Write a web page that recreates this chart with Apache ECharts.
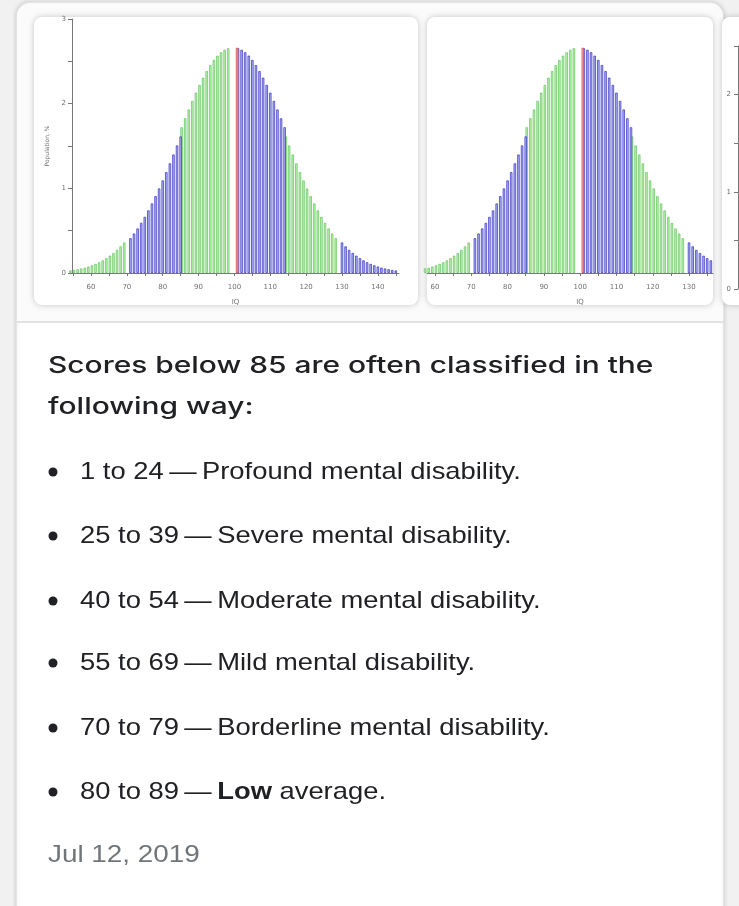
<!DOCTYPE html>
<html><head><meta charset="utf-8">
<script src="https://cdn.jsdelivr.net/npm/echarts@6/dist/echarts.min.js"></script>
<style>html,body{margin:0;padding:0;background:#fff}#c{width:739px;height:906px}</style>
</head><body><div id="c"></div>
<script>
// ---- data ----
const iqScores = [55,56,57,58,59,60,61,62,63,64,65,66,67,68,69,70,71,72,73,74,75,76,77,78,79,80,81,82,83,84,85,86,87,88,89,90,91,92,93,94,95,96,97,98,99,100,101,102,103,104,105,106,107,108,109,110,111,112,113,114,115,116,117,118,119,120,121,122,123,124,125,126,127,128,129,130,131,132,133,134,135,136,137,138,139,140,141,142,143,144,145];
const populationPct = [0.03,0.036,0.044,0.053,0.063,0.076,0.091,0.107,0.127,0.149,0.175,0.204,0.236,0.273,0.314,0.36,0.411,0.466,0.526,0.592,0.663,0.739,0.821,0.907,0.998,1.093,1.192,1.295,1.399,1.506,1.613,1.721,1.827,1.931,2.033,2.13,2.221,2.307,2.385,2.455,2.516,2.567,2.607,2.636,2.654,2.66,2.654,2.636,2.607,2.567,2.516,2.455,2.385,2.307,2.221,2.13,2.033,1.931,1.827,1.721,1.613,1.506,1.399,1.295,1.192,1.093,0.998,0.907,0.821,0.739,0.663,0.592,0.526,0.466,0.411,0.36,0.314,0.273,0.236,0.204,0.175,0.149,0.127,0.107,0.091,0.076,0.063,0.053,0.044,0.036,0.03];
const blueRanges = [[71,85],[101,114],[130,145]];
const redScores = [100];
const secondViewRange = [58, 136];
const xTickLabels = [60,70,80,90,100,110,120,130,140];
const xTickMarks = [55,60,65,70,75,80,85,90,95,100,105,110,115,120,125,130,135,140,145];
const yTickLabels = [0,1,2,3];
const xAxisName = 'IQ';
const yAxisName = 'Population, %';
const headingLines = ['Scores below 85 are often classified in the', 'following way:'];
const bulletRanges = ['1 to 24', '25 to 39', '40 to 54', '55 to 69', '70 to 79', '80 to 89'];
const bulletTexts = ['Profound mental disability.', 'Severe mental disability.', 'Moderate mental disability.', 'Mild mental disability.', 'Borderline mental disability.', '{b|Low} average.'];
const dateText = 'Jul 12, 2019';

// ---- build ----
function zoneOf(x) {
  if (redScores.indexOf(x) >= 0) return 'red';
  for (const r of blueRanges) if (x >= r[0] && x <= r[1]) return 'blue';
  return 'green';
}
function zoneSplit(lo, hi) {
  const out = {green: [], blue: [], red: []};
  iqScores.forEach((x, i) => { if (x >= lo && x <= hi) out[zoneOf(x)].push([x, populationPct[i]]); });
  return out;
}
const views = [zoneSplit(iqScores[0], iqScores[iqScores.length - 1]), zoneSplit(secondViewRange[0], secondViewRange[1])];
const zoneStyle = {
  green: {color: '#b8f2ae', borderColor: '#62c45c', borderWidth: 0.7},
  blue: {color: '#b4b4f2', borderColor: '#3030c0', borderWidth: 0.7},
  red: {color: '#f4a4a4', borderColor: '#e04848', borderWidth: 0.7}
};

const labelFont = {fontSize: 7, color: '#707070', fontFamily: 'DejaVu Sans'};
function xAxisFor(idx, min, max, namePad) {
  return {
    type: 'value', gridIndex: idx, min: min, max: max,
    name: xAxisName, nameLocation: 'middle', nameGap: 26,
    nameTextStyle: Object.assign({padding: namePad}, labelFont),
    axisLine: {lineStyle: {color: '#777', width: 1}},
    axisTick: {show: true, customValues: xTickMarks, length: 3, lineStyle: {color: '#777'}},
    axisLabel: Object.assign({customValues: xTickLabels, margin: 11}, labelFont),
    splitLine: {show: false}
  };
}
function yAxisFor(idx, max, showName) {
  return {
    type: 'value', gridIndex: idx, min: 0, max: max, interval: 0.5,
    name: showName ? yAxisName : '', nameLocation: 'middle', nameGap: 22,
    nameTextStyle: Object.assign({}, labelFont, {fontSize: 6}),
    axisLine: {show: true, lineStyle: {color: '#777', width: 1}},
    axisTick: {show: true, length: 4, lineStyle: {color: '#777'}},
    axisLabel: Object.assign({margin: 6, formatter: v => (yTickLabels.indexOf(v) >= 0 ? String(v) : '')}, labelFont),
    splitLine: {show: false}
  };
}

const series = [];
[0, 1].forEach(g => {
  ['green', 'blue', 'red'].forEach(z => {
    series.push({
      type: 'bar', xAxisIndex: g, yAxisIndex: g, data: views[g][z],
      barWidth: 2.4, itemStyle: zoneStyle[z], silent: true, clip: true, z: 3
    });
  });
});

const graphic = [];
// page background & outer card
graphic.push({type: 'rect', z: -10, shape: {x: 0, y: 0, width: 739, height: 906}, style: {fill: '#f1f1f1'}, silent: true});
graphic.push({type: 'rect', z: -9, shape: {x: 16, y: 2, width: 708, height: 960, r: 14}, style: {fill: '#ffffff', stroke: '#dedede', lineWidth: 1.5, shadowBlur: 4, shadowColor: 'rgba(0,0,0,0.12)'}, silent: true});
graphic.push({type: 'rect', z: -8, shape: {x: 17, y: 4, width: 706, height: 318, r: [13, 13, 0, 0]}, style: {fill: '#fbfbfb'}, silent: true});
graphic.push({type: 'rect', z: -8, shape: {x: 16, y: 321, width: 708, height: 2}, style: {fill: '#e2e2e2'}, silent: true});
// image cards
[[34, 384], [427, 286], [722, 60]].forEach(c => {
  graphic.push({type: 'rect', z: -7, shape: {x: c[0], y: 17, width: c[1], height: 288, r: 8}, style: {fill: '#ffffff', shadowBlur: 6, shadowColor: 'rgba(0,0,0,0.22)'}, silent: true});
});
// heading
headingLines.forEach((t, i) => {
  graphic.push({type: 'text', z: 10, x: 48, y: 366 + i * 41, scaleX: 1.3, style: {text: t, font: '500 23px Inter', fill: '#202124', verticalAlign: 'middle'}});
});
// bullets
const bulletY = [472, 536, 601, 663, 728, 792];
bulletRanges.forEach((r, i) => {
  graphic.push({type: 'circle', z: 10, shape: {cx: 53, cy: bulletY[i], r: 4.5}, style: {fill: '#202124'}});
  graphic.push({type: 'text', z: 10, x: 80, y: bulletY[i], scaleX: 1.14, style: {
    text: r + '\u2009\u2014\u2009' + bulletTexts[i], font: '24px "Liberation Sans"', fill: '#202124', verticalAlign: 'middle',
    rich: {b: {fontWeight: 'bold', fontSize: 24, fontFamily: 'Liberation Sans', fill: '#202124'}}
  }});
});
graphic.push({type: 'text', z: 10, x: 48, y: 855, scaleX: 1.16, style: {text: dateText, font: '24px "Liberation Sans"', fill: '#70757a', verticalAlign: 'middle'}});

const chart = echarts.init(document.getElementById('c'), null, {renderer: 'canvas'});
chart.setOption({
  animation: false,
  backgroundColor: 'transparent',
  grid: [
    {left: 72, top: 19, width: 327, height: 254},
    {left: 427, top: 19, width: 286, height: 254},
    {left: 738, top: 46, width: 60, height: 243}
  ],
  xAxis: [
    xAxisFor(0, 54.7, 145.9, [0, 0, 0, 0]),
    xAxisFor(1, 57.8, 136.6, [0, 0, 0, 20]),
    {type: 'value', gridIndex: 2, show: false, min: 0, max: 1}
  ],
  yAxis: [
    yAxisFor(0, 3, true),
    Object.assign(yAxisFor(1, 3, false), {show: false}),
    Object.assign(yAxisFor(2, 2.5, false), {axisLabel: Object.assign({margin: 7, formatter: v => (yTickLabels.indexOf(v) >= 0 ? String(v) : '')}, labelFont)})
  ],
  series: series,
  graphic: graphic
});
</script>
</body></html>
